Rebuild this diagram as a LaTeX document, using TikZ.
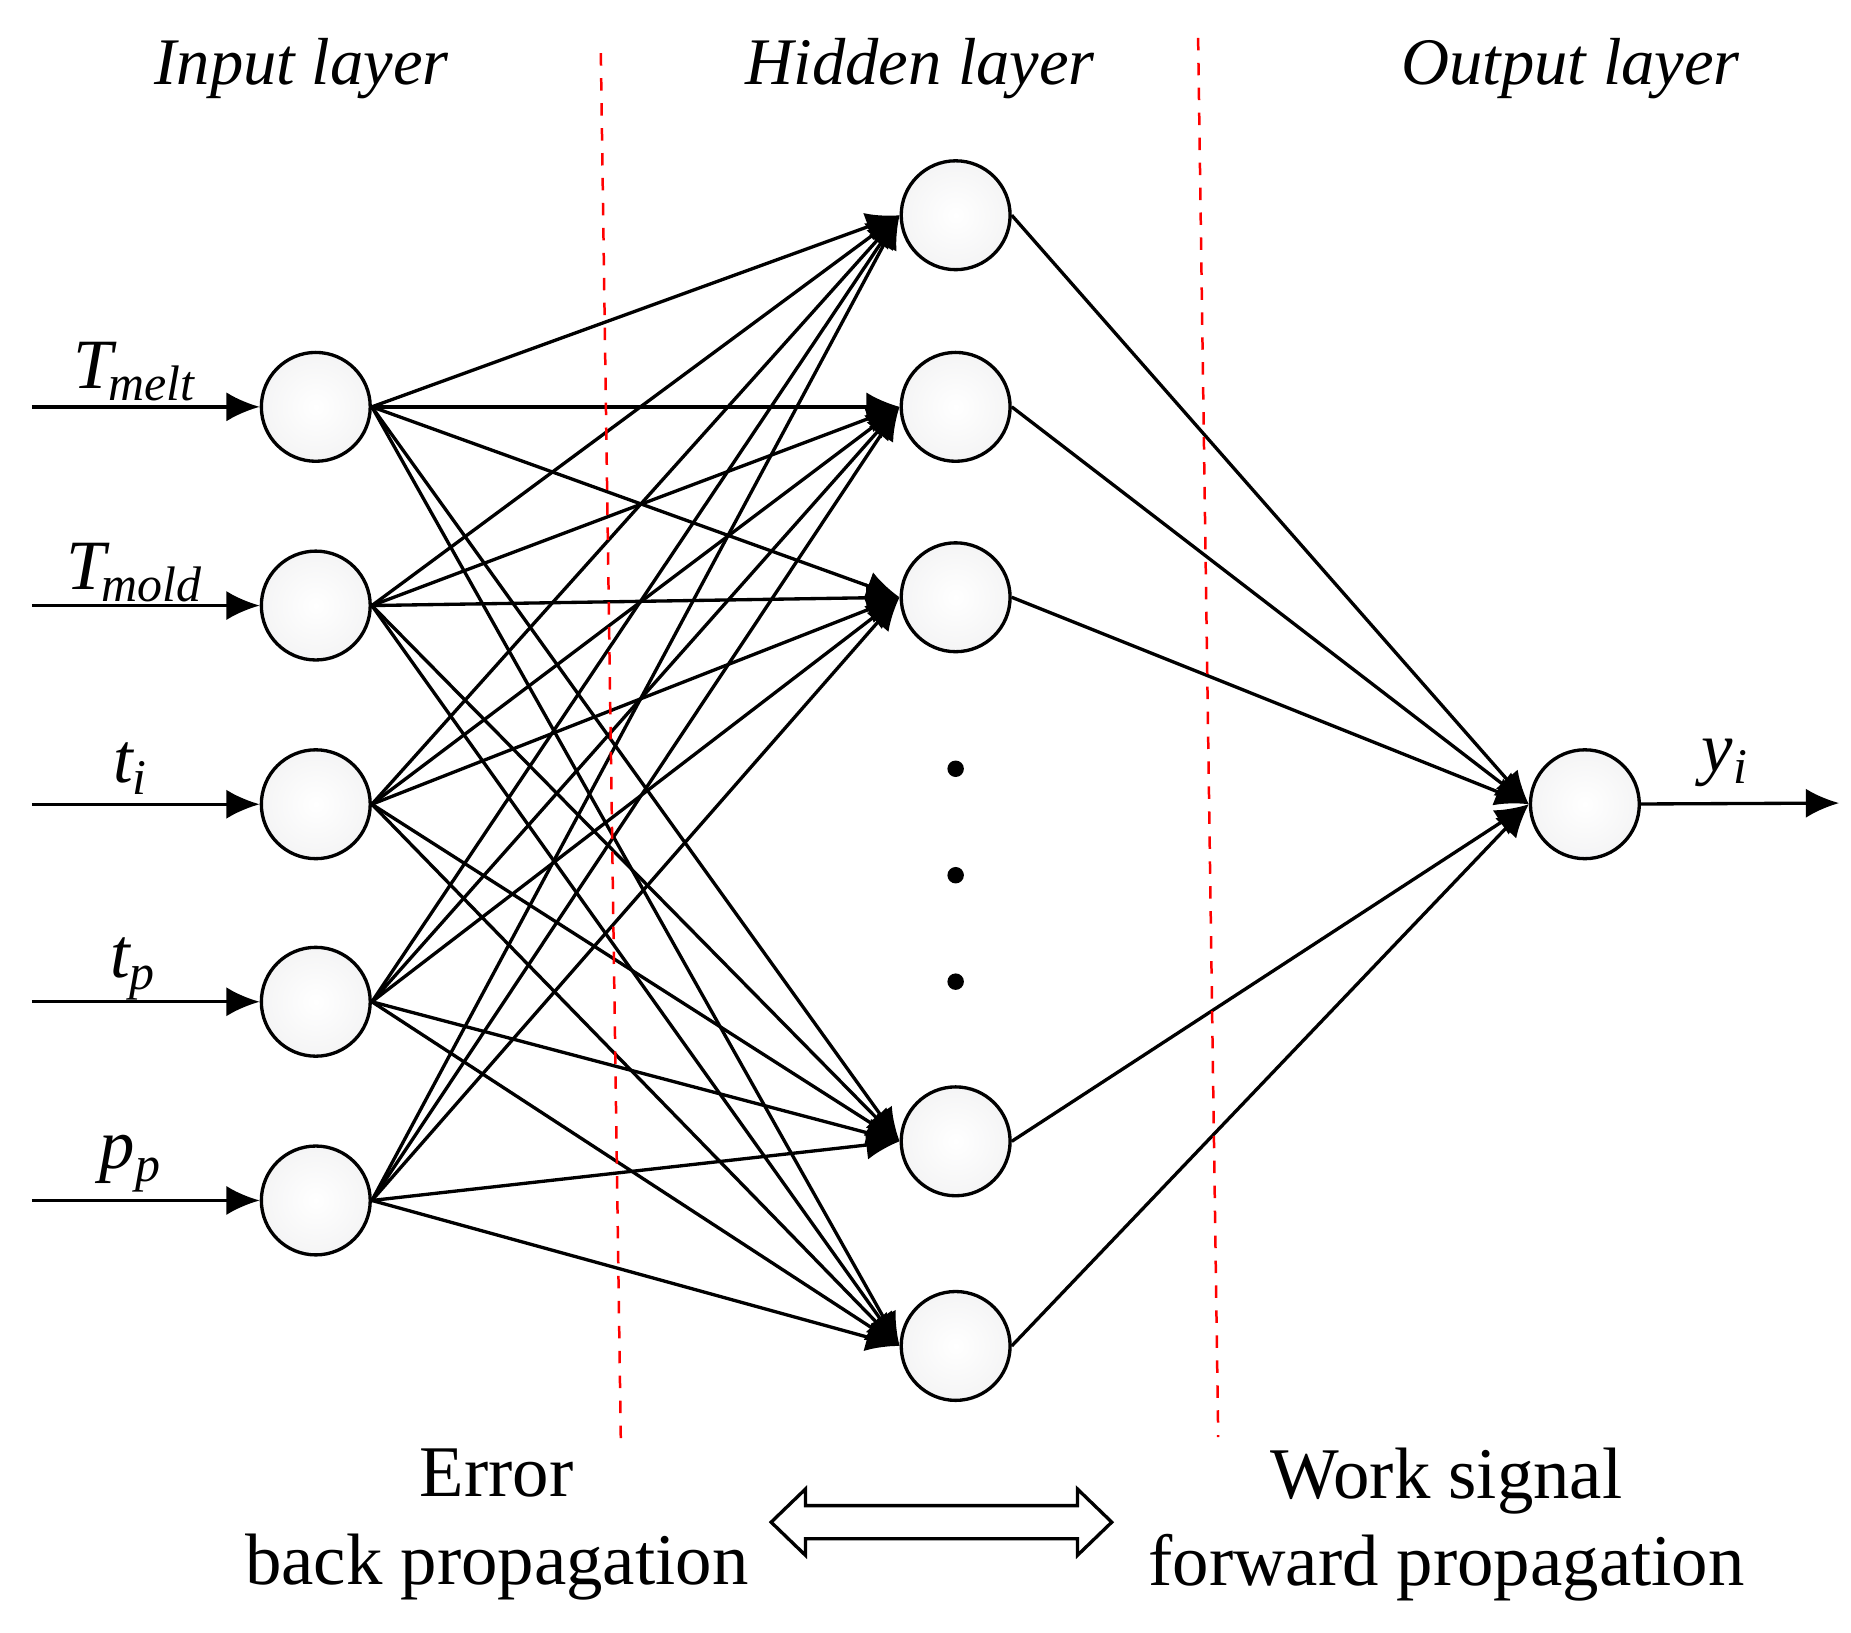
\documentclass[tikz,border=0pt]{standalone}
\usepackage{fontspec}
\setmainfont{Liberation Serif}
\usetikzlibrary{arrows.meta}
\begin{document}
\begin{tikzpicture}[x=0.01cm,y=-0.01cm,
  neuron/.style={circle,draw,line width=0.8pt,minimum size=0.92cm,inner sep=0pt,inner color=white,outer color=blue!3!gray!8},
  conn/.style={line width=0.8pt,-{Latex[length=8pt,width=7pt]}},
  sep/.style={red,dashed,line width=0.6pt},
  lbl/.style={font=\fontsize{16}{19}\selectfont\itshape},
  sub/.style={font=\fontsize{17}{20}\selectfont\itshape},
  txt/.style={font=\fontsize{17.5}{21}\selectfont}]
\newcommand\sbs[1]{\raisebox{-3pt}{\fontsize{12}{14}\selectfont #1}}
\useasboundingbox (0,0) rectangle (1565,1380);
\foreach \i/\y in {1/344,2/512,3/680,4/847,5/1015}{
  \node[neuron] (i\i) at (267,\y) {};
  \coordinate (s\i) at (27,\y);
  \draw[conn] (s\i) -- (i\i);
}
\foreach \j/\y in {1/182,2/344,3/505,4/965,5/1138}{
  \node[neuron] (h\j) at (808,\y) {};
}
\node[neuron] (o) at (1340,680) {};
\foreach \i in {1,...,5}{\foreach \j in {1,...,5}{\draw[conn] (i\i.east) -- (h\j.west);}}
\foreach \j in {1,...,5}{\draw[conn] (h\j.east) -- (o.west);}
\coordinate (oe) at (1555,679);
\draw[conn] (o) -- (oe);
\foreach \y [count=\k] in {650,740,830}{\node[circle,fill,inner sep=1.4pt] (d\k) at (808,\y) {};}
\coordinate (r1a) at (508,45); \coordinate (r1b) at (525,1225);
\coordinate (r2a) at (1013,32); \coordinate (r2b) at (1030,1215);
\draw[sep] (r1a) -- (r1b);
\draw[sep] (r2a) -- (r2b);
\node[lbl] (t1) at (255,58) {Input layer};
\node[lbl] (t2) at (778,58) {Hidden layer};
\node[lbl] (t3) at (1328,58) {Output layer};
\node[sub] (l1) at (113,314) {T\kern-1pt\sbs{melt}};
\node[sub] (l2) at (113,484) {T\kern-1pt\sbs{mold}};
\node[sub] (l3) at (110,650) {t\sbs{i}};
\node[sub] (l4) at (112,819) {t\sbs{p}};
\node[sub] (l5) at (110,984) {p\sbs{p}};
\node[sub] (l6) at (1458,645) {y\sbs{i}};
\node[txt,align=center] (e) at (420,1289) {Error\\[0pt]back propagation};
\node[txt,align=center] (w) at (1223,1289) {Work signal\\[0pt]forward propagation};
\draw[line width=0.8pt] (652,1287) -- (681,1259) -- (681,1273) -- (911,1273) -- (911,1259) -- (940,1287)
  -- (911,1315) -- (911,1301) -- (681,1301) -- (681,1315) -- cycle;
\end{tikzpicture}
\end{document}
